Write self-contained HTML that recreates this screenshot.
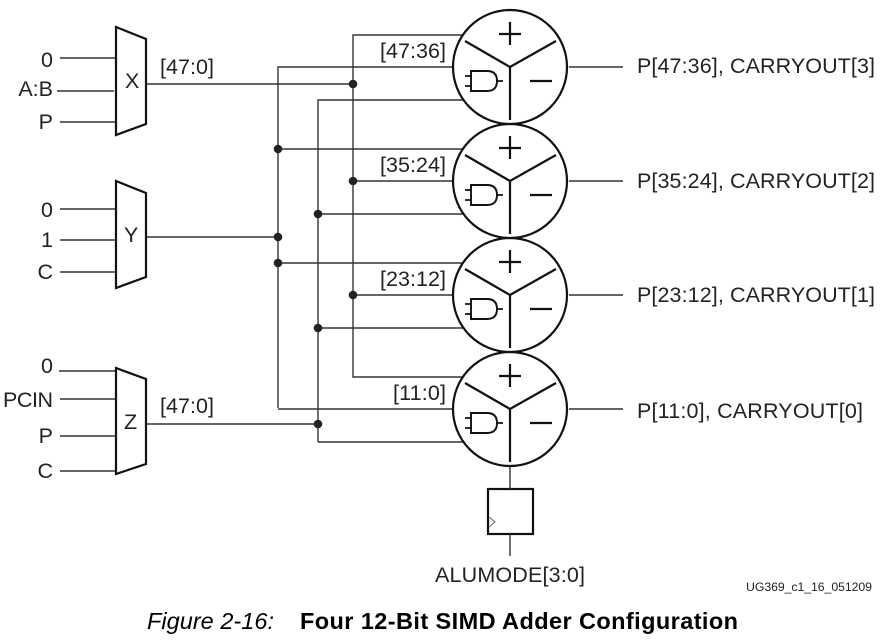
<!DOCTYPE html>
<html><head><meta charset="utf-8"><style>
html,body{margin:0;padding:0;background:#fff}
svg{display:block}
text{font-family:"Liberation Sans",sans-serif;font-size:21.5px;fill:#222}
.l{stroke:#333;stroke-width:1.4;fill:none}
.b{stroke:#111;stroke-width:2.2;fill:none}
</style></head><body>
<svg width="889" height="642" viewBox="0 0 889 642" xmlns="http://www.w3.org/2000/svg">
<defs>
<g id="add">
<circle cx="510" cy="0" r="57" fill="#fff" stroke="#111" stroke-width="2.2"/>
<path class="b" d="M465-26L510 0L556-26M510 0V53M510-45V-22M499-33H521M530 14H552"/>
<path d="M471 4H487Q497 4 497 14Q497 24 487 24H471Z" fill="none" stroke="#111" stroke-width="1.9"/>
<path d="M465 9H471M465 19H471M497 14H503" stroke="#111" stroke-width="1.7" fill="none"/>
<path class="l" d="M569 0H623"/>
</g>
</defs>
<path class="l" d="M60 58H116M57 91H114M60 122H116M60 209H116M60 240H116M60 272H116M59 371H116M60 399H116M60 436H116M60 471H116"/>
<path class="l" d="M146 84H353M146 237H278M146 424H318"/>
<path class="l" d="M463 35H353V377H463M278 408V67H460M318 442V100H463"/>
<path class="l" d="M278 149H463M353 181H455M318 214H463M278 263H463M353 295H455M318 328H463M278 409H455M318 442H463"/>
<use href="#add" y="409"/>
<use href="#add" y="295"/>
<use href="#add" y="181"/>
<use href="#add" y="67"/>
<g fill="#fff" stroke="#111" stroke-width="2.2">
<polygon points="116,27 146,39 146,124 116,135"/>
<polygon points="116,181 146,193 146,277 116,288"/>
<polygon points="116,368 146,379 146,464 116,474"/>
<rect x="488" y="489" width="45" height="45" stroke-width="2.2"/>
</g>
<path class="l" d="M510 466V489M510 534V556"/>
<path d="M489 517L495 522L489 527" fill="none" stroke="#666" stroke-width="1"/>
<g fill="#222">
<circle cx="353" cy="84" r="4.3"/><circle cx="278" cy="149" r="4.3"/><circle cx="353" cy="181" r="4.3"/><circle cx="318" cy="214" r="4.3"/><circle cx="278" cy="237" r="4.3"/><circle cx="278" cy="263" r="4.3"/><circle cx="353" cy="295" r="4.3"/><circle cx="318" cy="328" r="4.3"/><circle cx="318" cy="424" r="4.3"/>
</g>
<g text-anchor="end">
<text x="53" y="67">0</text><text x="53" y="96">A:B</text><text x="53" y="129">P</text>
<text x="53" y="217">0</text><text x="53" y="247">1</text><text x="53" y="279">C</text>
<text x="53" y="373">0</text><text x="53" y="407" textLength="50">PCIN</text><text x="53" y="443">P</text><text x="53" y="478">C</text>
</g>
<text x="125" y="88">X</text><text x="124" y="242">Y</text><text x="124" y="429">Z</text>
<text x="160" y="74" textLength="54">[47:0]</text><text x="160" y="413" textLength="54">[47:0]</text>
<text x="380" y="58" textLength="66">[47:36]</text><text x="380" y="172" textLength="66">[35:24]</text><text x="380" y="286" textLength="66">[23:12]</text><text x="393" y="400" textLength="53">[11:0]</text>
<text x="637" y="73" textLength="238">P[47:36], CARRYOUT[3]</text>
<text x="637" y="188" textLength="238">P[35:24], CARRYOUT[2]</text>
<text x="637" y="302" textLength="238">P[23:12], CARRYOUT[1]</text>
<text x="637" y="418" textLength="226">P[11:0], CARRYOUT[0]</text>
<text x="435" y="582" textLength="150">ALUMODE[3:0]</text>
<text x="746" y="591" textLength="126" style="font-size:12.3px">UG369_c1_16_051209</text>
<text x="147" y="629" textLength="127" style="font-size:23.5px;font-style:italic;fill:#000">Figure 2-16:</text>
<text x="300" y="629" textLength="438" style="font-size:23.5px;font-weight:bold;fill:#000">Four 12-Bit SIMD Adder Configuration</text>
</svg>
</body></html>
